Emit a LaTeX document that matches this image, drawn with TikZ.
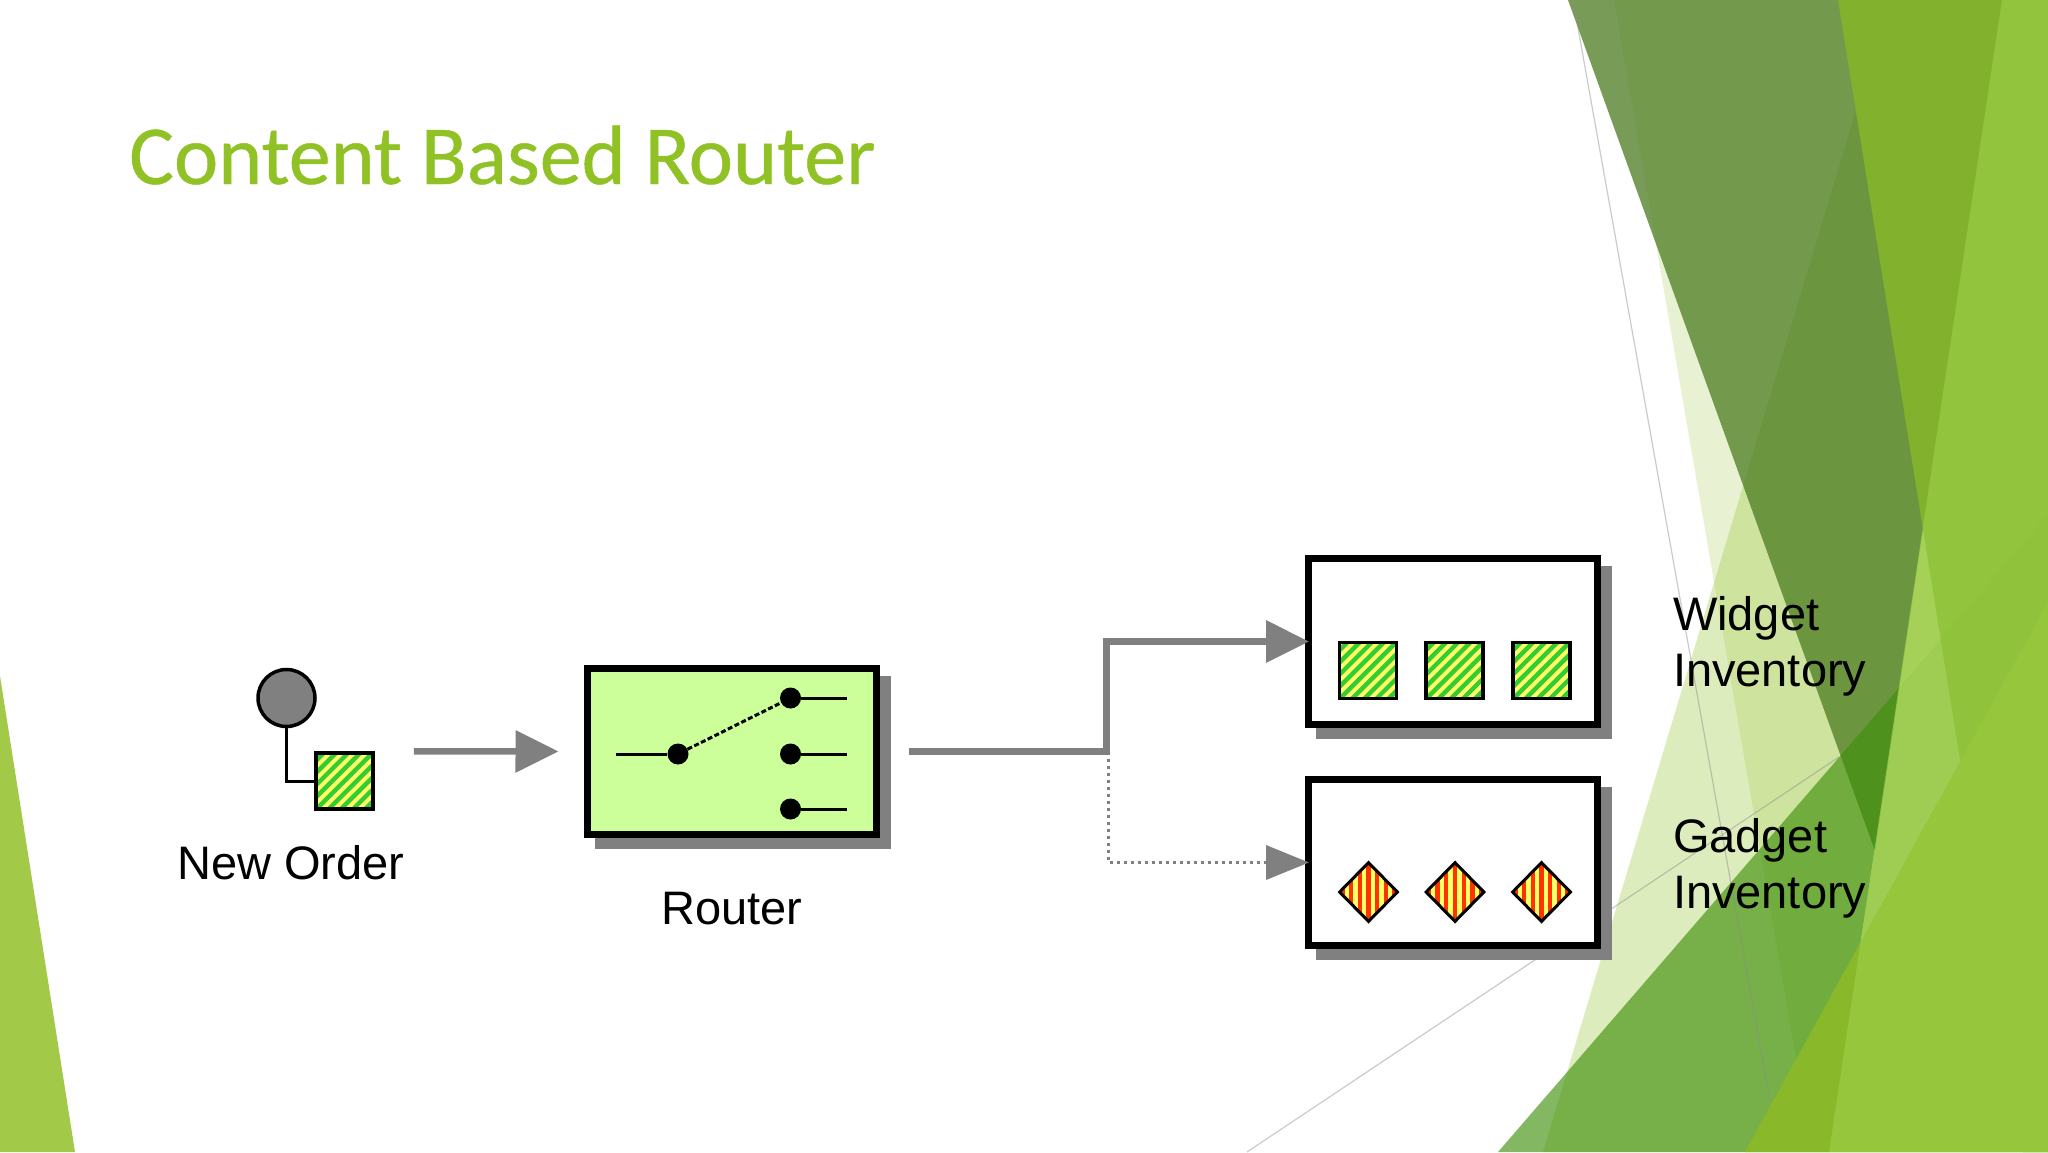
\documentclass[tikz,border=0pt]{standalone}
\usepackage{fontspec}
\setmainfont{Liberation Sans}
\newfontfamily\titlefont[FakeBold=0.5]{Carlito}
\usetikzlibrary{arrows.meta,shapes.geometric}
\definecolor{accent}{HTML}{90C226}
\definecolor{flowgray}{HTML}{808080}
\definecolor{hatchgreen}{HTML}{33CC33}
\definecolor{hatchyellow}{HTML}{FFFF66}
\definecolor{stripered}{HTML}{FF3300}
\definecolor{routergreen}{HTML}{CCFF99}
\definecolor{facetleft}{HTML}{A2C947}
\definecolor{facetdark}{HTML}{4B7C20}
\definecolor{facetmid}{HTML}{82B12E}
\definecolor{facetdeep}{HTML}{3E8F09}
\definecolor{facetlow}{HTML}{8AB82B}
\definecolor{facetlight}{HTML}{9ACB43}
\tikzset{
  box/.style={draw=black,line width=7pt,minimum width=289pt,minimum height=166pt,inner sep=0pt,outer sep=3.5pt},
  shadow box/.style={fill=flowgray,minimum width=296pt,minimum height=173pt,inner sep=0pt,outer sep=0pt},
  flow/.style={draw=flowgray,line width=6.5pt,-{Triangle[length=43pt,width=41pt,fill=flowgray]}},
  dotted flow/.style={draw=flowgray,line width=3.5pt,dash pattern=on 3.5pt off 3.5pt,-{Triangle[length=43pt,width=34pt,fill=flowgray]}},
  label/.style={font=\fontsize{47}{56}\selectfont,inner sep=0pt,outer sep=0pt,text=black},
  wire/.style={draw=black,line width=3pt},
  pin/.style={circle,fill=black,minimum size=21pt,inner sep=0pt},
  msg/.style={rectangle,draw=black,line width=3.5pt,fill=hatchyellow,minimum width=57pt,minimum height=56pt,inner sep=0pt,
    path picture={\foreach \i in {-7,...,7}
      \draw[hatchgreen,line width=4.4pt] ([xshift=\i*12.2pt]path picture bounding box.center) +(-50,50) -- +(50,-50);}},
  item/.style={diamond,aspect=1,draw=black,line width=3pt,fill=stripered,minimum width=59pt,minimum height=60pt,inner sep=0pt,
    path picture={\foreach \i in {-3,...,3}
      \draw[hatchyellow,line width=4.4pt] ([xshift=\i*8.7pt+4.35pt]path picture bounding box.center) +(0,-40) -- +(0,40);}},
  thin line/.style={draw=black!45,line width=1.2pt,opacity=.45}
}
\begin{document}
\begin{tikzpicture}[x=1pt,y=-1pt]
\useasboundingbox (0,0) rectangle (2048,1152);
\fill[white] (0,0) rectangle (2048,1152);
% backdrop
\fill[facetleft] (0,676) -- (75,1152) -- (0,1152) -- cycle;
\fill[accent,opacity=.3] (1889,0) -- (2048,0) -- (2048,1152) -- (1543,1152) -- cycle;
\fill[accent,opacity=.2] (1614,0) -- (2048,0) -- (2048,1152) -- (1812,1152) -- cycle;
\draw[thin line] (1247,1152) -- (1839,757);
\fill[facetdark,opacity=.75] (1568,0) -- (2002,0) -- (1875,851) -- cycle;
\fill[facetmid] (1838,0) -- (2048,0) -- (2048,1152) -- (2023,1152) -- cycle;
\fill[facetdeep,opacity=.64] (1498,1152) -- (1899,688) -- (1829,1152) -- cycle;
\fill[facetdeep,opacity=.2] (1899,688) -- (2048,514) -- (2048,1152) -- (1829,1152) -- cycle;
\draw[thin line] (1573,0) -- (1770,1102);
\fill[facetlow] (1745,1152) -- (2048,602) -- (2048,1152) -- cycle;
\fill[facetlight,opacity=.75] (2002,0) -- (2048,0) -- (2048,1152) -- (1829,1152) -- cycle;
% title
\node[anchor=base west,inner sep=0pt,text=accent,font=\titlefont\fontsize{84}{100}\selectfont] (title) at (129,184) {Content Based Router};
% sender
\node[circle,draw=black,line width=3.5pt,fill=flowgray,minimum size=57pt,inner sep=0pt] (sender) at (286.5,698) {};
\node[msg] (order) at (344.5,781) {};
\draw[wire] (sender.south) |- (order.west);
\node[label,anchor=base] (orderlabel) at (291,879) {New Order};
% router
\node[shadow box] (routershadow) at (743,762.5) {};
\node[box,fill=routergreen] (router) at (731.5,751.5) {};
\node[pin] (swin) at (678,754) {};
\node[pin] (swa) at (790.5,698) {};
\node[pin] (swb) at (790.5,754) {};
\node[pin] (swc) at (790.5,809) {};
\coordinate (inend) at (616,754);
\coordinate (aend) at (847,698);
\coordinate (bend) at (847,754);
\coordinate (cend) at (847,809);
\draw[wire] (inend) -- (swin);
\draw[wire,dash pattern=on 5pt off 2.5pt] (swin) -- (swa);
\draw[wire] (swa) -- (aend);
\draw[wire] (swb) -- (bend);
\draw[wire] (swc) -- (cend);
\node[label,anchor=base] (routerlabel) at (732,924) {Router};
% queues
\node[shadow box] (widgetshadow) at (1464,652.5) {};
\node[box,fill=white] (widget) at (1453,641.5) {};
\node[shadow box] (gadgetshadow) at (1464,873.5) {};
\node[box,fill=white] (gadget) at (1453,862.5) {};
\node[msg] (w1) at (1368,670.5) {};
\node[msg] (w2) at (1454.5,670.5) {};
\node[msg] (w3) at (1541.5,670.5) {};
\node[item] (g1) at (1368.5,892) {};
\node[item] (g2) at (1455,892) {};
\node[item] (g3) at (1541.5,892) {};
\node[label,anchor=base west,align=left] (widgetlabel) at (1673,686) {Widget\\Inventory};
\node[label,anchor=base west,align=left] (gadgetlabel) at (1673,908) {Gadget\\Inventory};
% connectors
\coordinate (branch) at (1106.5,751.5);
\coordinate (dotbranch) at (1108.5,751.5);
\draw[flow,shorten <=39pt,shorten >=25pt] (order.north east) -- (router.west);
\draw[flow,shorten <=29pt,shorten >=-4pt] (router.east) -- (branch) |- (widget.west);
\draw[dotted flow,shorten >=-4pt] (dotbranch) |- (gadget.west);
\end{tikzpicture}
\end{document}
